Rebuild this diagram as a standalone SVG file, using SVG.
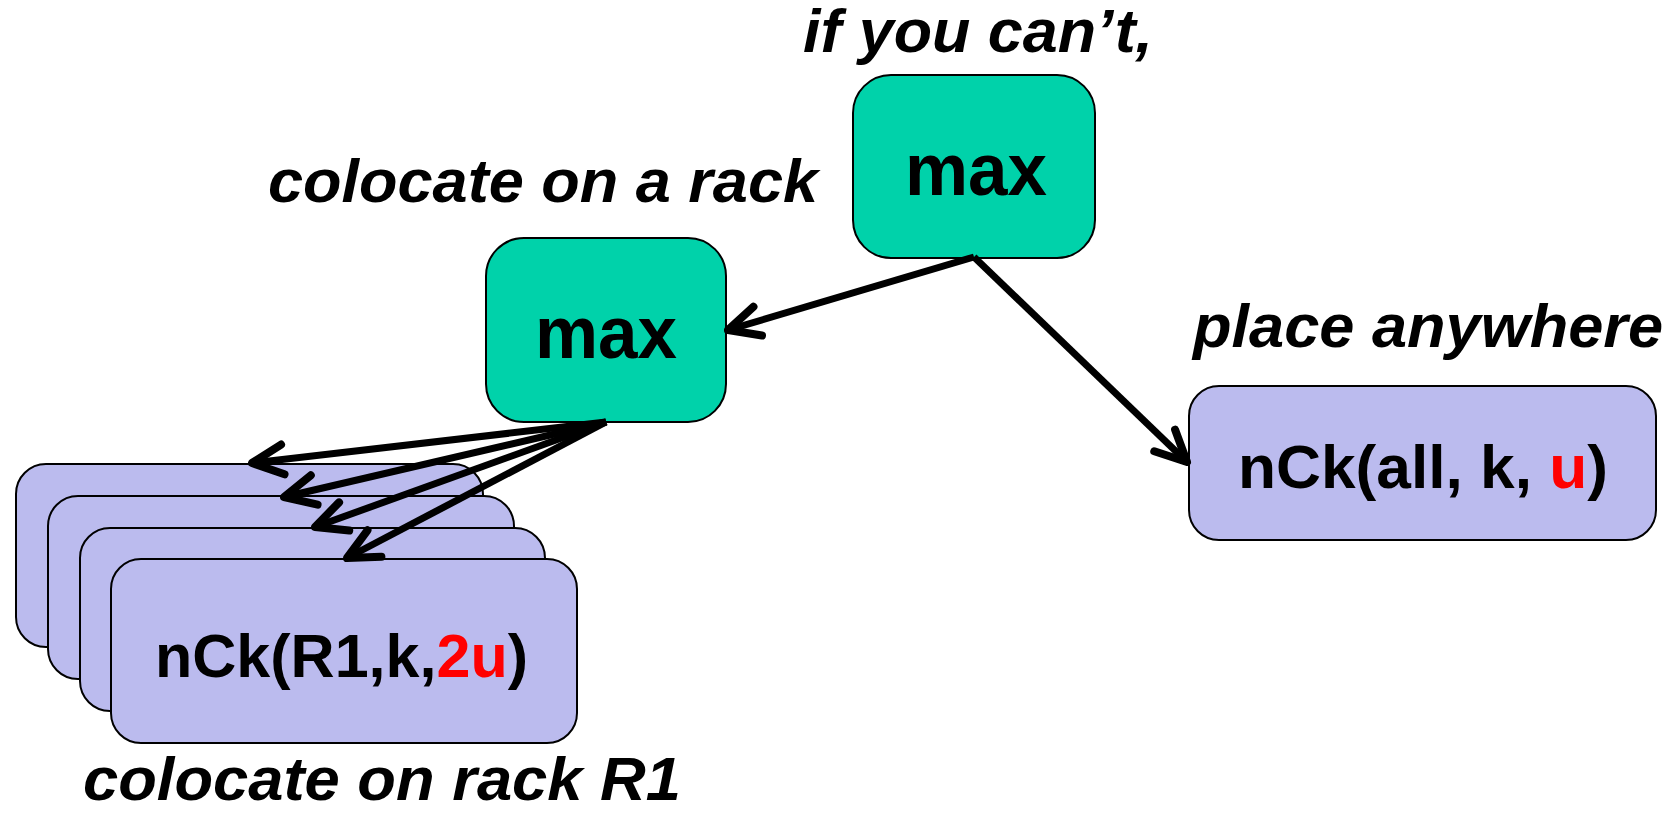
<svg xmlns="http://www.w3.org/2000/svg" width="1677" height="813" viewBox="0 0 1677 813">
<defs>
<style>
.green{fill:#00D2AA;stroke:#000;stroke-width:2}
.purple{fill:#BBBBEE;stroke:#000;stroke-width:2}
.lbl{font-family:"Liberation Sans",Arial,sans-serif;font-weight:bold;font-style:italic;font-size:61px;fill:#000}
.txt{font-family:"Liberation Sans",Arial,sans-serif;font-weight:bold;fill:#000}
.red{fill:#FF0000}
.conn{stroke:#000;fill:none;marker-end:url(#arr)}
</style>
<marker id="arr" markerUnits="userSpaceOnUse" viewBox="-40 -25 50 50" markerWidth="50" markerHeight="50" refX="0" refY="0" orient="auto" overflow="visible">
<path d="M-31,-15 L0,0 L-31,15" fill="none" stroke="#000" stroke-width="8" stroke-linecap="round" stroke-linejoin="round"/>
</marker>
</defs>
<rect width="1677" height="813" fill="#fff"/>

<g id="label-top"><text class="lbl" x="803" y="52" textLength="350" lengthAdjust="spacingAndGlyphs">if you can’t,</text></g>
<g id="label-rack"><text class="lbl" x="268" y="202" textLength="550" lengthAdjust="spacingAndGlyphs">colocate on a rack</text></g>
<g id="label-anywhere"><text class="lbl" x="1193" y="347" textLength="470" lengthAdjust="spacingAndGlyphs">place anywhere</text></g>
<g id="label-r1"><text class="lbl" x="83" y="800" textLength="598" lengthAdjust="spacingAndGlyphs">colocate on rack R1</text></g>

<g id="max-top">
<rect class="green" x="853" y="75" width="242" height="183" rx="38" ry="38"/>
<text class="txt" x="905" y="195" font-size="75" textLength="142" lengthAdjust="spacingAndGlyphs">max</text>
</g>
<g id="max-rack">
<rect class="green" x="486" y="238" width="240" height="184" rx="38" ry="38"/>
<text class="txt" x="535" y="358" font-size="75" textLength="142" lengthAdjust="spacingAndGlyphs">max</text>
</g>
<g id="nck-all">
<rect class="purple" x="1189" y="386" width="467" height="154" rx="30" ry="30"/>
<text class="txt" x="1238" y="488" font-size="61" textLength="370" lengthAdjust="spacingAndGlyphs">nCk(all, k, <tspan class="red">u</tspan>)</text>
</g>
<g id="nck-r-1"><rect class="purple" x="16" y="464" width="467" height="183" rx="30" ry="30"/></g>
<g id="nck-r-2"><rect class="purple" x="48" y="496" width="466" height="183" rx="30" ry="30"/></g>
<g id="nck-r-3"><rect class="purple" x="80" y="528" width="465" height="183" rx="30" ry="30"/></g>
<g id="nck-r1">
<rect class="purple" x="111" y="559" width="466" height="184" rx="30" ry="30"/>
<text class="txt" x="155" y="677" font-size="61" textLength="373" lengthAdjust="spacingAndGlyphs">nCk(R1,k,<tspan class="red">2u</tspan>)</text>
</g>

<g id="connectors" stroke-width="7">
<line class="conn" stroke-width="7" x1="974" y1="257" x2="728" y2="330"/>
<line class="conn" stroke-width="7" x1="974" y1="257" x2="1187" y2="462"/>
<line class="conn" stroke-width="7" x1="606" y1="422" x2="252" y2="463"/>
<line class="conn" stroke-width="7" x1="606" y1="422" x2="284" y2="497"/>
<line class="conn" stroke-width="7" x1="606" y1="422" x2="315" y2="527"/>
<line class="conn" stroke-width="7" x1="606" y1="422" x2="347" y2="558"/>
</g>
</svg>
